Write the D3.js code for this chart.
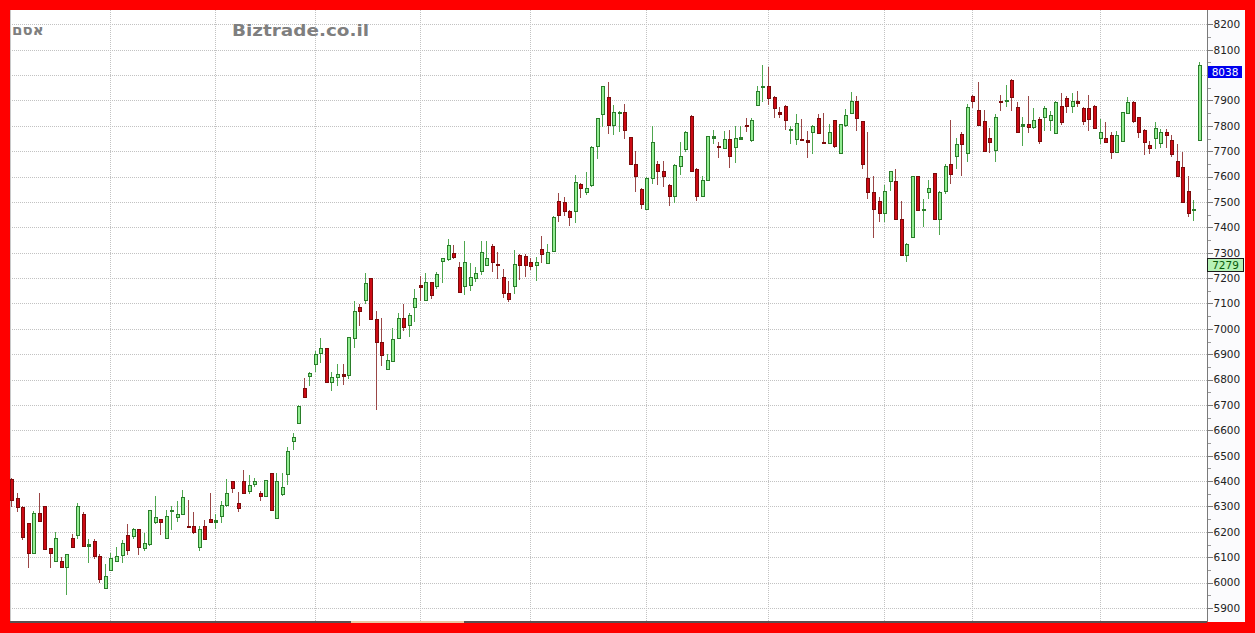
<!DOCTYPE html>
<html>
<head>
<meta charset="utf-8">
<script src="https://cdn.jsdelivr.net/npm/d3@7/dist/d3.min.js"></script>
<style>
  html, body { margin: 0; padding: 0; background: #ff0000; }
  svg { display: block; }
</style>
</head>
<body>
<svg id="chart" width="1255" height="633"></svg>
<script>
// ---------------- DATA ----------------
const opens = [6410,6332,6299,6234,6116,6273,6300,6136,6087,6085,6061,6177,6188,6270,6143,6163,6104,5979,6048,6087,
6107,6188,6185,6210,6136,6153,6238,6250,6177,6281,6257,6269,6225,6223,6140,6225,6251,6238,6264,6307,
6400,6314,6401,6362,6387,6352,6342,6431,6253,6349,6427,6559,6628,6766,6814,6861,6904,6923,6789,6812,
6822,6818,6962,7085,7113,7199,7038,6950,6841,6874,6965,7041,7014,7088,7172,7113,7185,7169,7267,7276,
7300,7245,7169,7172,7202,7228,7252,7326,7256,7204,7143,7169,7290,7287,7263,7252,7313,7258,7308,7504,
7498,7465,7465,7572,7540,7565,7720,7847,7915,7805,7851,7856,7754,7650,7552,7471,7595,7650,7620,7568,
7523,7641,7707,7840,7631,7523,7585,7752,7722,7712,7748,7716,7749,7803,7746,7883,7952,7958,7912,7853,
7879,7784,7748,7747,7745,7777,7830,7736,7733,7821,7693,7804,7851,7899,7818,7594,7541,7502,7456,7582,
7582,7434,7290,7362,7602,7469,7539,7614,7434,7545,7650,7680,7768,7693,7919,7864,7818,7751,7703,7899,
7898,7982,7873,7801,7807,7794,7827,7834,7821,7772,7879,7908,7879,7899,7869,7869,7877,7751,7751,7762,
7696,7742,7851,7893,7834,7785,7725,7751,7733,7777,7746,7661,7637,7545,7468,7746];
const highs = [6412,6352,6300,6235,6283,6352,6301,6137,6198,6100,6111,6192,6314,6277,6172,6172,6113,6074,6116,6140,
6166,6231,6214,6211,6195,6287,6340,6251,6286,6303,6323,6365,6325,6280,6225,6247,6353,6270,6323,6410,
6401,6358,6443,6424,6414,6362,6406,6432,6431,6431,6536,6588,6698,6805,6831,6913,6962,6924,6828,6861,
6861,6966,7110,7097,7221,7200,7071,7044,6900,7005,7061,7097,7064,7158,7208,7219,7186,7225,7279,7353,
7330,7263,7346,7261,7245,7345,7346,7333,7304,7237,7189,7310,7293,7293,7280,7284,7367,7334,7445,7535,
7521,7470,7605,7575,7618,7720,7832,7957,7974,7882,7858,7886,7756,7699,7555,7598,7801,7663,7663,7572,
7650,7735,7781,7842,7633,7602,7760,7785,7735,7781,7785,7801,7801,7830,7830,7955,8039,8030,7919,7876,
7881,7801,7847,7827,7781,7803,7847,7850,7807,7823,7809,7866,7932,7916,7820,7775,7602,7519,7565,7622,
7631,7502,7338,7604,7604,7510,7585,7616,7545,7650,7821,7751,7775,7886,7921,7971,7864,7790,7847,7921,
7961,7984,7893,7834,7916,7869,7834,7879,7860,7899,7929,7916,7929,7936,7873,7921,7882,7827,7814,7777,
7781,7855,7912,7897,7836,7787,7742,7814,7788,7788,7762,7729,7696,7602,7508,8050];
const lows = [6297,6277,6166,6057,6116,6244,6133,6057,6087,6060,5950,6136,6172,6143,6077,6094,6000,5973,6045,6081,
6078,6107,6172,6107,6126,6146,6231,6188,6177,6208,6238,6269,6218,6190,6123,6166,6240,6212,6234,6297,
6352,6277,6349,6349,6375,6323,6342,6286,6253,6342,6385,6523,6628,6730,6775,6828,6867,6791,6756,6776,
6780,6802,6926,7012,7097,7038,6681,6854,6837,6870,6959,6992,6966,7025,7110,7110,7119,7158,7182,7267,
7274,7145,7132,7149,7185,7211,7248,7224,7198,7123,7106,7136,7193,7206,7232,7189,7261,7254,7304,7422,
7446,7406,7417,7514,7527,7559,7670,7794,7768,7762,7775,7748,7647,7539,7473,7467,7572,7565,7559,7486,
7497,7607,7696,7618,7502,7519,7583,7729,7672,7709,7633,7654,7745,7775,7735,7881,7895,7882,7830,7830,
7785,7729,7725,7742,7672,7690,7768,7729,7729,7712,7693,7794,7847,7781,7631,7513,7358,7421,7421,7545,
7432,7288,7264,7360,7465,7401,7513,7432,7369,7532,7572,7631,7604,7657,7869,7803,7698,7693,7659,7860,
7873,7860,7775,7720,7772,7788,7729,7781,7781,7768,7804,7851,7851,7873,7804,7781,7788,7729,7733,7670,
7693,7738,7847,7811,7751,7686,7690,7709,7712,7712,7676,7598,7497,7441,7426,7744];
const closes = [6327,6297,6181,6116,6273,6244,6133,6117,6177,6060,6111,6140,6300,6143,6153,6103,6015,6026,6098,6104,
6155,6130,6210,6140,6155,6286,6257,6238,6261,6287,6269,6336,6218,6198,6212,6172,6240,6247,6307,6355,
6371,6293,6355,6384,6399,6342,6405,6286,6399,6375,6519,6575,6696,6730,6825,6900,6926,6791,6812,6822,
6815,6966,7071,7071,7182,7038,6949,6896,6877,6959,7041,7009,7055,7120,7165,7185,7132,7215,7278,7329,
7285,7145,7263,7204,7219,7304,7280,7263,7252,7140,7117,7257,7250,7250,7248,7265,7293,7304,7439,7448,
7465,7439,7580,7554,7554,7716,7830,7955,7804,7856,7856,7784,7649,7602,7493,7595,7735,7620,7602,7523,
7644,7683,7777,7620,7523,7587,7759,7759,7716,7748,7680,7751,7754,7798,7821,7938,7958,7908,7869,7847,
7821,7788,7811,7745,7735,7801,7772,7733,7777,7720,7807,7844,7899,7830,7650,7541,7473,7456,7545,7620,
7434,7290,7336,7602,7467,7473,7555,7434,7541,7641,7611,7729,7729,7873,7899,7805,7700,7738,7834,7895,
7902,7912,7777,7806,7794,7824,7742,7869,7843,7893,7814,7879,7899,7890,7818,7827,7790,7775,7735,7696,
7762,7853,7893,7817,7777,7735,7712,7790,7777,7764,7690,7602,7500,7458,7472,8038];
const days = d3.range(1, opens.length + 1);           // trading-day categories
const monthStarts = [18, 37, 55, 74, 94, 115, 137, 158, 174, 197]; // day index of each new month
const yTicks = d3.range(5900, 8201, 100);
const yMinorTicks = d3.range(5950, 8200, 100);
const lastValue = 8038;
const refValue = 7279;
const titleText = "אסם";
const brandText = "Biztrade.co.il";

// ---------------- LAYOUT ----------------
const W = 1255, H = 633;
const plot = { left: 10, top: 10, right: 1207, bottom: 622 };
const axisRight = 1245;

const svg = d3.select("#chart");

const x = d3.scalePoint().domain(d3.range(opens.length)).range([12, 1200]);
const y = d3.scaleLinear().domain([5900, 8200]).range([608, 24.3]);

// frame + backgrounds
svg.append("rect").attr("x", 0).attr("y", 0).attr("width", W).attr("height", H).attr("fill", "#ff0000");
svg.append("rect").attr("x", plot.left).attr("y", plot.top)
  .attr("width", plot.right - plot.left).attr("height", plot.bottom - plot.top).attr("fill", "#ffffff");
svg.append("rect").attr("x", plot.right).attr("y", plot.top)
  .attr("width", axisRight - plot.right).attr("height", plot.bottom - plot.top).attr("fill", "#fbfbfd");

const g = svg.append("g").attr("shape-rendering", "crispEdges");

// horizontal grid
g.append("g").selectAll("line").data(yTicks).join("line")
  .attr("x1", plot.left).attr("x2", plot.right)
  .attr("y1", d => Math.round(y(d)) + 0.5).attr("y2", d => Math.round(y(d)) + 0.5)
  .attr("stroke", "#c2c2c2").attr("stroke-dasharray", "1,1");

// vertical grid (month boundaries)
g.append("g").selectAll("line").data(monthStarts).join("line")
  .attr("x1", d => Math.round(x(d)) - 0.5).attr("x2", d => Math.round(x(d)) - 0.5)
  .attr("y1", plot.top).attr("y2", plot.bottom)
  .attr("stroke", "#c2c2c2").attr("stroke-dasharray", "1,1");

// left border
g.append("line").attr("x1", plot.left + 0.5).attr("x2", plot.left + 0.5)
  .attr("y1", plot.top).attr("y2", plot.bottom).attr("stroke", "#c8c8c8");

// bottom bar
g.append("rect").attr("x", plot.left).attr("y", plot.bottom - 1).attr("width", plot.right - plot.left)
  .attr("height", 2).attr("fill", "#5a5050");
g.append("rect").attr("x", 351).attr("y", plot.bottom - 1).attr("width", 113)
  .attr("height", 2).attr("fill", "#e9c9a3");

// right axis
const lastY = Math.round(y(lastValue) + 1);
const axisG = svg.append("g").attr("transform", `translate(${plot.right},0)`);
axisG.append("line").attr("x1", 0.5).attr("x2", 0.5).attr("y1", plot.top).attr("y2", plot.bottom)
  .attr("stroke", "#7a7a7a").attr("shape-rendering", "crispEdges");
// labels hidden behind the last-value box are not drawn
const visibleTicks = yTicks.filter(v => Math.abs(y(v) - (lastY + 6)) > 7);
const axis = d3.axisRight(y).tickValues(visibleTicks).tickSize(5).tickPadding(1).tickFormat(d3.format("d"));
const ax = axisG.append("g").attr("transform", "translate(0.5,0)").call(axis);
ax.select(".domain").remove();
ax.selectAll(".tick line").attr("stroke", "#7a7a7a").attr("shape-rendering", "crispEdges");
ax.selectAll(".tick text").attr("fill", "#222").attr("font-family", "DejaVu Sans, Verdana, sans-serif")
  .attr("font-size", "10.5px");
axisG.append("g").selectAll("line").data(yMinorTicks).join("line")
  .attr("x1", 0.5).attr("x2", 3.5)
  .attr("y1", d => Math.round(y(d)) + 0.5).attr("y2", d => Math.round(y(d)) + 0.5)
  .attr("stroke", "#9a9a9a").attr("shape-rendering", "crispEdges");

// ---------------- CANDLES ----------------
const UP = { fill: "#92ec92", border: "#2a7d2a", wick: "#4fa64f" };
const DN = { fill: "#cc0a14", border: "#7c0a0a", wick: "#9a4646" };

const candles = g.append("g").selectAll("g").data(days).join("g");
candles.each(function(d, i) {
  const o = opens[i], h = highs[i], l = lows[i], c = closes[i];
  const col = c >= o ? UP : DN;
  const cx = Math.round(x(i));
  const sel = d3.select(this);
  const yh = Math.round(y(h)), yl = Math.round(y(l));
  let yt = Math.round(y(Math.max(o, c))), yb = Math.round(y(Math.min(o, c)));
  if (yb - yt < 1) yb = yt + 1;
  sel.append("rect").attr("x", cx - 1).attr("y", yh).attr("width", 1).attr("height", Math.max(1, yl - yh))
    .attr("fill", col.wick);
  sel.append("rect").attr("x", cx - 2).attr("y", yt).attr("width", 4).attr("height", yb - yt + 1)
    .attr("fill", col.border);
  if (yb - yt >= 3) {
    sel.append("rect").attr("x", cx - 1).attr("y", yt + 1).attr("width", 2).attr("height", yb - yt - 1)
      .attr("fill", col.fill);
  }
});

// ---------------- VALUE LABELS ----------------
svg.append("rect").attr("x", 1208).attr("y", lastY).attr("width", 34).attr("height", 12)
  .attr("fill", "#0000ee").attr("shape-rendering", "crispEdges");
svg.append("text").attr("x", 1225).attr("y", lastY + 6).attr("text-anchor", "middle")
  .attr("dominant-baseline", "central").attr("fill", "#ffffff")
  .attr("font-family", "DejaVu Sans, Verdana, sans-serif").attr("font-size", "10.5px").text(lastValue);

const refY = Math.round(y(refValue) + 1);
svg.append("rect").attr("x", 1207.5).attr("y", refY - 0.5).attr("width", 36).attr("height", 13)
  .attr("fill", "#b6f2b6").attr("stroke", "#1a1a1a").attr("stroke-width", 1);
svg.append("text").attr("x", 1225.5).attr("y", refY + 6).attr("text-anchor", "middle")
  .attr("dominant-baseline", "central").attr("fill", "#0a5a0a")
  .attr("font-family", "DejaVu Sans, Verdana, sans-serif").attr("font-size", "10.5px").text(refValue);

// ---------------- TITLES ----------------
svg.append("text").attr("x", 12).attr("y", 35).attr("fill", "#7f7f7f")
  .attr("font-family", "DejaVu Sans, Arial, sans-serif").attr("font-weight", "bold").attr("font-size", "15px")
  .attr("direction", "rtl").attr("text-anchor", "end").text(titleText);
svg.append("text").attr("x", 232).attr("y", 36).attr("fill", "#7f7f7f")
  .attr("font-family", "DejaVu Sans, Verdana, sans-serif").attr("font-weight", "bold").attr("font-size", "16px")
  .attr("textLength", 137).attr("lengthAdjust", "spacingAndGlyphs").text(brandText);
</script>
</body>
</html>
